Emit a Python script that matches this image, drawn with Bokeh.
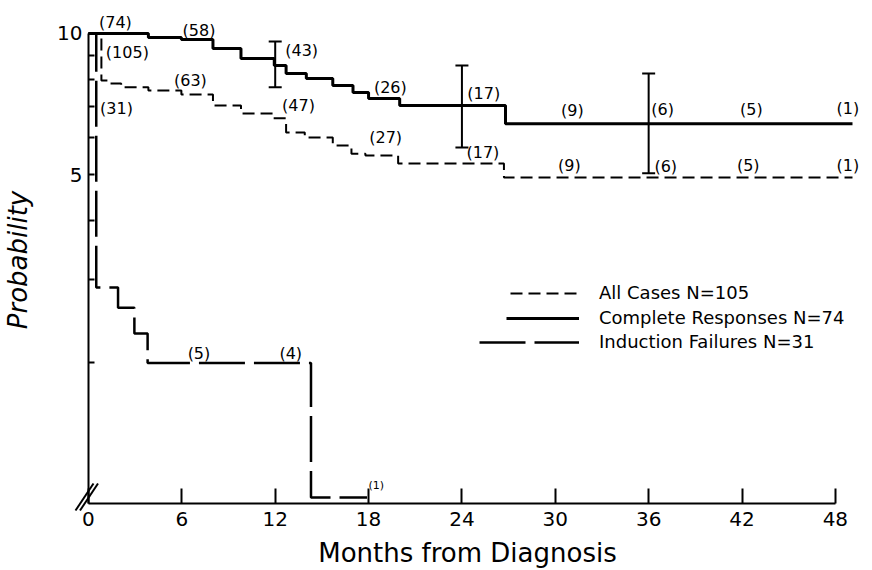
from bokeh.plotting import figure
from bokeh.models import (FixedTicker, Whisker, TeeHead, ColumnDataSource, Legend,
                          LegendItem, Arrow, Range1d, CustomJSTickFormatter,
                          LinearAxis, LogAxis)
from bokeh.core.properties import value
from bokeh.embed import file_html
from bokeh.resources import INLINE

FONT = "DejaVu Sans"

# ---- data (months, probability x10) ----
cr_t = [0, 3.85, 5.97, 8.0, 9.8, 11.94, 12.7, 14.0, 15.7, 17.0, 18.0, 20.0, 26.8, 49.1]
cr_p = [10, 9.81, 9.71, 9.29, 8.85, 8.55, 8.22, 8.02, 7.75, 7.49, 7.27, 7.03, 6.43, 6.43]

all_t = [0, 0.83, 1.3, 2.1, 3.85, 5.97, 8.0, 9.8, 11.9, 12.7, 13.9, 15.7, 16.9, 17.8, 19.9, 26.7, 49.1]
all_p = [10, 7.94, 7.83, 7.68, 7.56, 7.42, 7.03, 6.76, 6.60, 6.16, 6.01, 5.78, 5.55, 5.50, 5.29, 4.94, 4.94]

if_t = [0, 0.5, 1.9, 2.95, 3.8, 14.3, 17.9]
if_p = [10, 2.88, 2.61, 2.30, 1.99, 1.03, 1.03]

err_month = [12, 24, 36]
err_upper = [9.62, 8.55, 8.22]
err_lower = [7.68, 5.72, 5.04]

cr_lab = ["(74)", "(58)", "(43)", "(26)", "(17)", "(9)", "(6)", "(5)", "(1)"]
cr_lab_x = [1.73, 7.1, 13.7, 19.4, 25.4, 31.1, 36.9, 42.6, 48.8]
cr_lab_y = [10.55, 10.15, 9.2, 7.67, 7.45, 6.86, 6.89, 6.89, 6.93]

all_lab = ["(105)", "(63)", "(47)", "(27)", "(17)", "(9)", "(6)", "(5)", "(1)"]
all_lab_x = [2.5, 6.55, 13.5, 19.1, 25.35, 30.9, 37.1, 42.4, 48.8]
all_lab_y = [9.11, 7.94, 7.03, 6.0, 5.58, 5.24, 5.21, 5.24, 5.24]

if_lab = ["(31)", "(5)", "(4)"]
if_lab_x = [1.8, 7.1, 13.0]
if_lab_y = [6.93, 2.09, 2.09]
if_last_lab = ["(1)"]
if_last_x = [18.5]
if_last_y = [1.09]

x_ticks = [0, 6, 12, 18, 24, 30, 36, 42, 48]
y_ticks = [2, 3, 4, 5, 6, 7, 8, 9, 10]
y_labelled = [5, 10]

series_names = ["All Cases N=105", "Complete Responses N=74", "Induction Failures N=31"]

# ---- figure ----
p = figure(width=872, height=570, x_range=Range1d(-1.284, 50), y_range=Range1d(0.9475, 11.47),
           y_axis_type="log", output_backend="svg", toolbar_location=None,
           min_border_left=67, min_border_right=6, min_border_top=5, min_border_bottom=56)
p.outline_line_color = None
p.xgrid.grid_line_color = None
p.ygrid.grid_line_color = None
p.background_fill_color = "white"

r_all = p.step(all_t, all_p, mode="after", line_color="black", line_width=2, line_dash="12 6")
r_cr = p.step(cr_t, cr_p, mode="after", line_color="black", line_width=3)
r_if = p.step(if_t, if_p, mode="after", line_color="black", line_width=2.5, line_dash="46 9")

src = ColumnDataSource(dict(base=err_month, upper=err_upper, lower=err_lower))
wh = Whisker(source=src, base="base", upper="upper", lower="lower", dimension="height",
             line_color="black", line_width=2,
             upper_head=TeeHead(size=13, line_width=2, line_color="black"),
             lower_head=TeeHead(size=13, line_width=2, line_color="black"))
p.add_layout(wh)

tkw = dict(text_align="center", text_baseline="middle", text_font=value(FONT),
           text_color="black")
p.text(cr_lab_x, cr_lab_y, text=cr_lab, text_font_size="16px", **tkw)
p.text(all_lab_x, all_lab_y, text=all_lab, text_font_size="16px", **tkw)
p.text(if_lab_x, if_lab_y, text=if_lab, text_font_size="16px", **tkw)
p.text(if_last_x, if_last_y, text=if_last_lab, text_font_size="11px", **tkw)

# axis lines + ticks, pinned at month 0 / probability 1 (labels come from the outer axes)
xa = p.xaxis[0]
xa.fixed_location = 1
xa.ticker = FixedTicker(ticks=x_ticks)
xa.bounds = (0, 48)
xa.major_tick_in = 15
xa.major_tick_out = 0
xa.minor_tick_line_color = None
xa.axis_line_width = 2
xa.major_tick_line_width = 2
xa.major_label_text_color = None

ya = p.yaxis[0]
ya.fixed_location = 0
ya.ticker = FixedTicker(ticks=y_ticks)
ya.bounds = (1, 10)
ya.major_tick_in = 6
ya.major_tick_out = 0
ya.minor_tick_line_color = None
ya.axis_line_width = 2
ya.major_tick_line_width = 2
ya.major_label_text_color = None

# outer axes: tick labels and titles only
xl = LinearAxis(ticker=FixedTicker(ticks=x_ticks), axis_line_color=None,
                major_tick_line_color=None, minor_tick_line_color=None,
                major_tick_in=0, major_tick_out=0, major_label_standoff=-3,
                major_label_text_font=FONT, major_label_text_font_size="20px",
                major_label_text_color="black",
                axis_label="Months from Diagnosis", axis_label_text_font=FONT,
                axis_label_text_font_size="26px", axis_label_text_font_style="normal",
                axis_label_text_color="black", axis_label_standoff=9)
p.add_layout(xl, "below")

yl = LogAxis(ticker=FixedTicker(ticks=y_ticks),
             formatter=CustomJSTickFormatter(args=dict(keep=y_labelled),
                                             code="return keep.includes(tick) ? String(tick) : ''"),
             axis_line_color=None, major_tick_line_color=None, minor_tick_line_color=None,
             major_tick_in=0, major_tick_out=0, major_label_standoff=-14,
             major_label_text_font=FONT, major_label_text_font_size="20px",
             major_label_text_color="black",
             axis_label="Probability", axis_label_text_font=FONT,
             axis_label_text_font_size="26px", axis_label_text_font_style="italic",
             axis_label_text_color="black", axis_label_standoff=21)
p.add_layout(yl, "left")

# axis break mark (two short parallel strokes at the origin, screen px from frame corner)
for dx in [0, 4.5]:
    p.add_layout(Arrow(end=None, x_start=7 + dx, y_start=4, x_end=25 + dx, y_end=31,
                       start_units="screen", end_units="screen",
                       line_color="black", line_width=2))

# legends (one per row, right-aligned samples)
leg_specs = [(r_all, series_names[0], 69, 442, 211),
             (r_cr, series_names[1], 73, 438, 186),
             (r_if, series_names[2], 100, 411, 162)]
for r, name, gw, lx, ly in leg_specs:
    lg = Legend(items=[LegendItem(label=name, renderers=[r])], location=(lx, ly),
                glyph_width=gw, glyph_height=20, label_height=20, label_standoff=20,
                padding=0, margin=0, spacing=0, border_line_alpha=0, background_fill_alpha=0,
                label_text_font=FONT, label_text_font_size="18px", label_text_color="black")
    p.add_layout(lg)

open("out.html", "w").write(file_html(p, INLINE))
